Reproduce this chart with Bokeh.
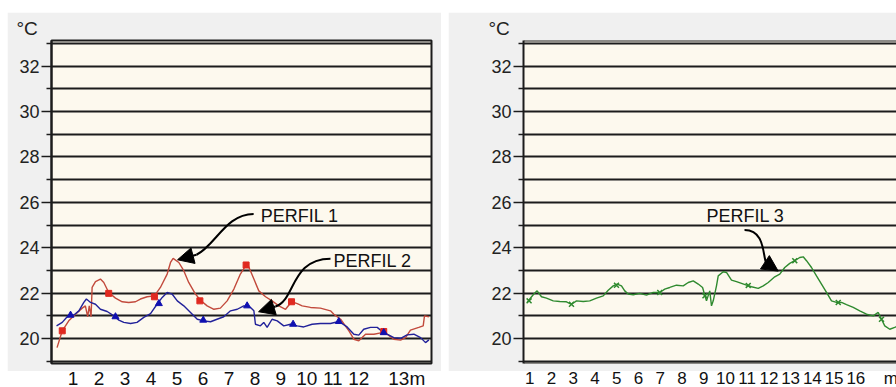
from bokeh.plotting import figure
from bokeh.layouts import row, column
from bokeh.models import FixedTicker, Span, Arrow, NormalHead, ColumnDataSource
from bokeh.embed import file_html
from bokeh.resources import INLINE

# ---------------- data ----------------
perfil1_x = [0.38,0.58,0.83,1.09,1.35,1.47,1.56,1.62,1.69,1.73,1.86,2.05,2.18,2.37,2.63,2.89,3.14,3.40,3.59,3.85,4.13,4.36,4.62,4.75,4.85,5.07,5.26,5.45,5.71,5.90,6.16,6.42,6.67,6.93,7.19,7.44,7.66,7.76,7.96,8.15,8.41,8.66,8.92,9.18,9.41,9.63,9.82,10.14,10.52,10.91,11.04,11.30,11.62,11.81,12.00,12.26,12.58,12.90,13.09,13.35,13.61,13.80,13.99,14.31,14.48,14.53,14.70]
perfil1_y = [19.60,20.34,20.78,21.07,21.34,21.44,20.96,21.44,20.96,22.25,22.51,22.62,22.47,22.03,21.78,21.62,21.59,21.62,21.74,21.84,21.88,22.25,22.84,23.35,23.53,23.35,22.99,22.47,21.96,21.69,21.44,21.29,21.34,21.66,22.18,22.84,23.24,23.16,22.62,22.10,21.84,21.66,21.44,21.29,21.62,21.54,21.44,21.37,21.34,21.22,21.07,20.85,20.34,19.97,19.90,20.19,20.19,20.26,20.19,19.97,19.93,20.04,20.37,20.49,20.56,21.00,20.96]
perfil1_mark_x = [0.58,2.37,4.13,5.88,7.66,9.41,12.96]
perfil1_mark_y = [20.34,21.99,21.84,21.66,23.24,21.62,20.31]

perfil2_x = [0.36,0.58,0.77,1.03,1.22,1.41,1.51,1.67,1.86,2.05,2.31,2.57,2.76,2.95,3.21,3.46,3.72,3.98,4.23,4.43,4.62,4.81,5.01,5.26,5.52,5.78,6.03,6.29,6.54,6.80,7.06,7.32,7.57,7.83,7.96,8.02,8.21,8.34,8.47,8.66,8.86,9.11,9.37,9.63,9.88,10.20,10.52,10.91,11.23,11.55,11.81,12.00,12.19,12.45,12.71,12.90,13.09,13.35,13.61,13.86,14.12,14.38,14.57,14.70]
perfil2_y = [20.56,20.71,20.96,21.04,21.22,21.59,21.74,21.59,21.51,21.29,21.19,21.00,20.81,20.71,20.66,20.71,20.93,21.10,21.51,21.81,22.03,21.96,21.66,21.44,21.15,20.85,20.78,20.74,20.85,20.96,21.22,21.29,21.44,21.37,21.22,20.63,20.56,20.71,20.49,20.85,20.78,20.56,20.63,20.56,20.51,20.63,20.66,20.66,20.75,20.51,20.19,20.15,20.41,20.49,20.49,20.31,20.19,20.04,20.01,20.16,20.19,20.04,19.82,19.94]
perfil2_mark_x = [0.90,2.63,4.30,6.01,7.70,9.47,11.23,12.96]
perfil2_mark_y = [21.03,20.96,21.54,20.81,21.44,20.63,20.75,20.26]

perfil3_x = [0.88,1.00,1.19,1.34,1.54,1.77,2.08,2.38,2.69,2.92,3.15,3.46,3.76,4.07,4.38,4.61,4.84,5.02,5.22,5.37,5.53,5.76,6.06,6.37,6.68,6.98,7.21,7.44,7.75,8.06,8.29,8.52,8.75,8.95,9.06,9.13,9.28,9.36,9.44,9.59,9.67,9.90,10.05,10.28,10.51,10.74,10.97,11.20,11.51,11.74,11.97,12.27,12.50,12.73,12.96,13.19,13.42,13.58,13.73,13.96,14.19,14.42,14.65,14.88,15.11,15.34,15.57,15.88,16.18,16.49,16.80,17.03,17.18,17.33,17.56,17.79,18.02]
perfil3_y = [21.59,21.74,21.96,22.10,21.84,21.78,21.66,21.63,21.62,21.51,21.66,21.63,21.66,21.78,21.88,22.13,22.32,22.40,22.32,22.10,21.96,21.93,21.99,21.91,22.03,22.03,22.18,22.25,22.35,22.32,22.47,22.54,22.40,22.25,21.88,21.66,22.10,21.44,21.66,22.32,22.76,22.94,22.91,22.57,22.51,22.43,22.35,22.28,22.21,22.32,22.47,22.72,22.84,23.13,23.31,23.43,23.57,23.60,23.43,23.13,22.76,22.40,22.03,21.66,21.59,21.59,21.49,21.37,21.22,21.07,21.00,21.15,20.85,20.56,20.41,20.49,20.60]
perfil3_mark_x = [0.97,2.92,4.99,6.98,9.06,11.05,13.19,15.19,17.18]
perfil3_mark_y = [21.66,21.51,22.35,22.03,21.88,22.34,23.43,21.59,20.85]

y_label_ticks = [20, 22, 24, 26, 28, 30, 32]
y_minor_ticks = [19, 21, 23, 25, 27, 29, 31, 33]
y_grid_ticks = list(range(19, 34))

x_ticks_left = [1, 2, 3, 4, 5, 6, 7, 8, 9, 10, 11, 12, 13]
x_labels_left = ["1", "2", "3", "4", "5", "6", "7", "8", "9", "10", "11", "12", "13m"]
x_ticks_right = [1, 2, 3, 4, 5, 6, 7, 8, 9, 10, 11, 12, 13, 14, 15, 16, 17.33]
x_labels_right = ["1", "2", "3", "4", "5", "6", "7", "8", "9", "10", "11", "12",
                  "13", "14", "15", "16", "m"]

# annotation anchors (data coords)
note1 = dict(text="PERFIL 1", x=8.22, y=25.41)
note2 = dict(text="PERFIL 2", x=11.03, y=23.43)
note3 = dict(text="PERFIL 3", x=9.13, y=25.41)
curve1 = dict(x0=7.95, y0=25.49, cx0=6.87, cy0=25.49, cx1=6.48, cy1=24.09, x1=5.75, y1=23.69, tx=5.02, ty=23.47)
curve2 = dict(x0=10.91, y0=23.52, cx0=9.37, cy0=23.52, cx1=9.56, cy1=21.67, x1=8.79, y1=21.41, tx=8.14, ty=21.18)
curve3 = dict(x0=10.88, y0=24.78, cx0=11.84, cy0=24.78, cx1=11.71, cy1=23.63, x1=11.88, y1=23.32, tx=12.43, ty=22.97)

# ---------------- style ----------------
FONT = "Liberation Sans"
GRAY = "#f0f0f0"
CREAM = "#fdf9ee"
INK = "#1c1c1c"
YR = (18.9, 33.13)
RED = "#c24a3c"
BLUE = "#22229a"
GREEN = "#2f8a2f"
LABEL_BASE = 9.5


def panel(width, xr, min_left, min_right, outline):
    p = figure(width=width, height=359, x_range=xr, y_range=YR,
               output_backend="svg", toolbar_location=None,
               x_axis_location=None,
               min_border_left=min_left, min_border_right=min_right,
               min_border_top=28, min_border_bottom=8,
               border_fill_color=GRAY, background_fill_color=CREAM,
               outline_line_color=INK if outline else None,
               outline_line_width=2)
    ax = p.yaxis[0]
    ax.ticker = FixedTicker(ticks=y_label_ticks, minor_ticks=y_minor_ticks)
    ax.major_tick_out = 10
    ax.major_tick_in = 0
    ax.minor_tick_out = 5
    ax.minor_tick_in = 0
    ax.major_tick_line_color = INK
    ax.minor_tick_line_color = INK
    ax.major_tick_line_width = 1.5
    ax.minor_tick_line_width = 1.5
    ax.axis_line_color = INK
    ax.axis_line_width = 2
    ax.major_label_standoff = 2
    ax.major_label_text_font = FONT
    ax.major_label_text_font_size = "18px"
    ax.major_label_text_color = "#222222"
    p.ygrid.ticker = FixedTicker(ticks=y_grid_ticks)
    p.ygrid.grid_line_color = INK
    p.ygrid.grid_line_width = 2
    p.ygrid.grid_line_alpha = 1
    p.xgrid.grid_line_color = None
    p.title.text = "°C"
    p.title.text_font = FONT
    p.title.text_font_size = "19px"
    p.title.text_font_style = "normal"
    p.title.text_color = "#222222"
    p.title.align = "left"
    p.title.offset = -35
    p.title.standoff = 3
    return p


def label_strip(width, xr, min_left, min_right, ticks, labels, size, last_shift):
    q = figure(width=width, height=16, x_range=xr, y_range=(0, 16), title=None,
               output_backend="svg", toolbar_location=None,
               x_axis_location=None, y_axis_location=None,
               min_border_left=min_left, min_border_right=min_right,
               min_border_top=0, min_border_bottom=0,
               border_fill_color="white", background_fill_color="white",
               outline_line_color=None)
    q.xgrid.grid_line_color = None
    q.ygrid.grid_line_color = None
    shifts = [0] * (len(labels) - 1) + [last_shift]
    src = ColumnDataSource(dict(x=ticks, y=[LABEL_BASE] * len(ticks),
                                label=labels, dx=shifts))
    q.text(x="x", y="y", text="label", x_offset="dx", source=src,
           text_align="center", text_font={"value": FONT}, text_font_size=size,
           text_baseline="alphabetic", text_color="#111111")
    return q


def arrow(p, c):
    p.bezier(x0=[c["x0"]], y0=[c["y0"]], x1=[c["x1"]], y1=[c["y1"]],
             cx0=[c["cx0"]], cy0=[c["cy0"]], cx1=[c["cx1"]], cy1=[c["cy1"]],
             line_color="black", line_width=2)
    p.add_layout(Arrow(end=NormalHead(size=16, fill_color="black", line_color="black"),
                       x_start=c["x1"], y_start=c["y1"], x_end=c["tx"], y_end=c["ty"],
                       line_color="black", line_width=2))


def note(p, n):
    p.text(x=[n["x"]], y=[n["y"]], text=[n["text"]], text_font={"value": FONT},
           text_font_size="18px", text_baseline="middle", text_align="left",
           text_color="#111111")


# ---------- left panel ----------
left = panel(434, (0.166, 14.80), 44, 10, True)
left.line(perfil1_x, perfil1_y, line_color=RED, line_width=1.4)
left.line(perfil2_x, perfil2_y, line_color=BLUE, line_width=1.4)
left.scatter(perfil1_mark_x, perfil1_mark_y, marker="square", size=6,
             fill_color="#e02a20", line_color="#e02a20")
left.scatter(perfil2_mark_x, perfil2_mark_y, marker="triangle", size=7,
             fill_color="#1010b0", line_color="#1010b0")
arrow(left, curve1)
arrow(left, curve2)
note(left, note1)
note(left, note2)

left_lab = label_strip(434, left.x_range, 44, 10, x_ticks_left, x_labels_left, "19px", 22)

# ---------- right panel ----------
right = panel(448, (0.713, 17.87), 75, 0, False)
right.add_layout(Span(location=YR[1], dimension="width", line_color=INK, line_width=2))
right.add_layout(Span(location=YR[0], dimension="width", line_color=INK, line_width=2))
right.line(perfil3_x, perfil3_y, line_color=GREEN, line_width=1.4)
right.scatter(perfil3_mark_x, perfil3_mark_y, marker="x", size=7,
              line_color=GREEN, line_width=1.5)
arrow(right, curve3)
note(right, note3)

right_lab = label_strip(448, right.x_range, 75, 0, x_ticks_right, x_labels_right, "17px", 6)

layout = row(column(left, left_lab), column(right, right_lab), spacing=7)
layout.margin = (12, 0, 0, 7)

open("out.html", "w").write(file_html(layout, INLINE))
